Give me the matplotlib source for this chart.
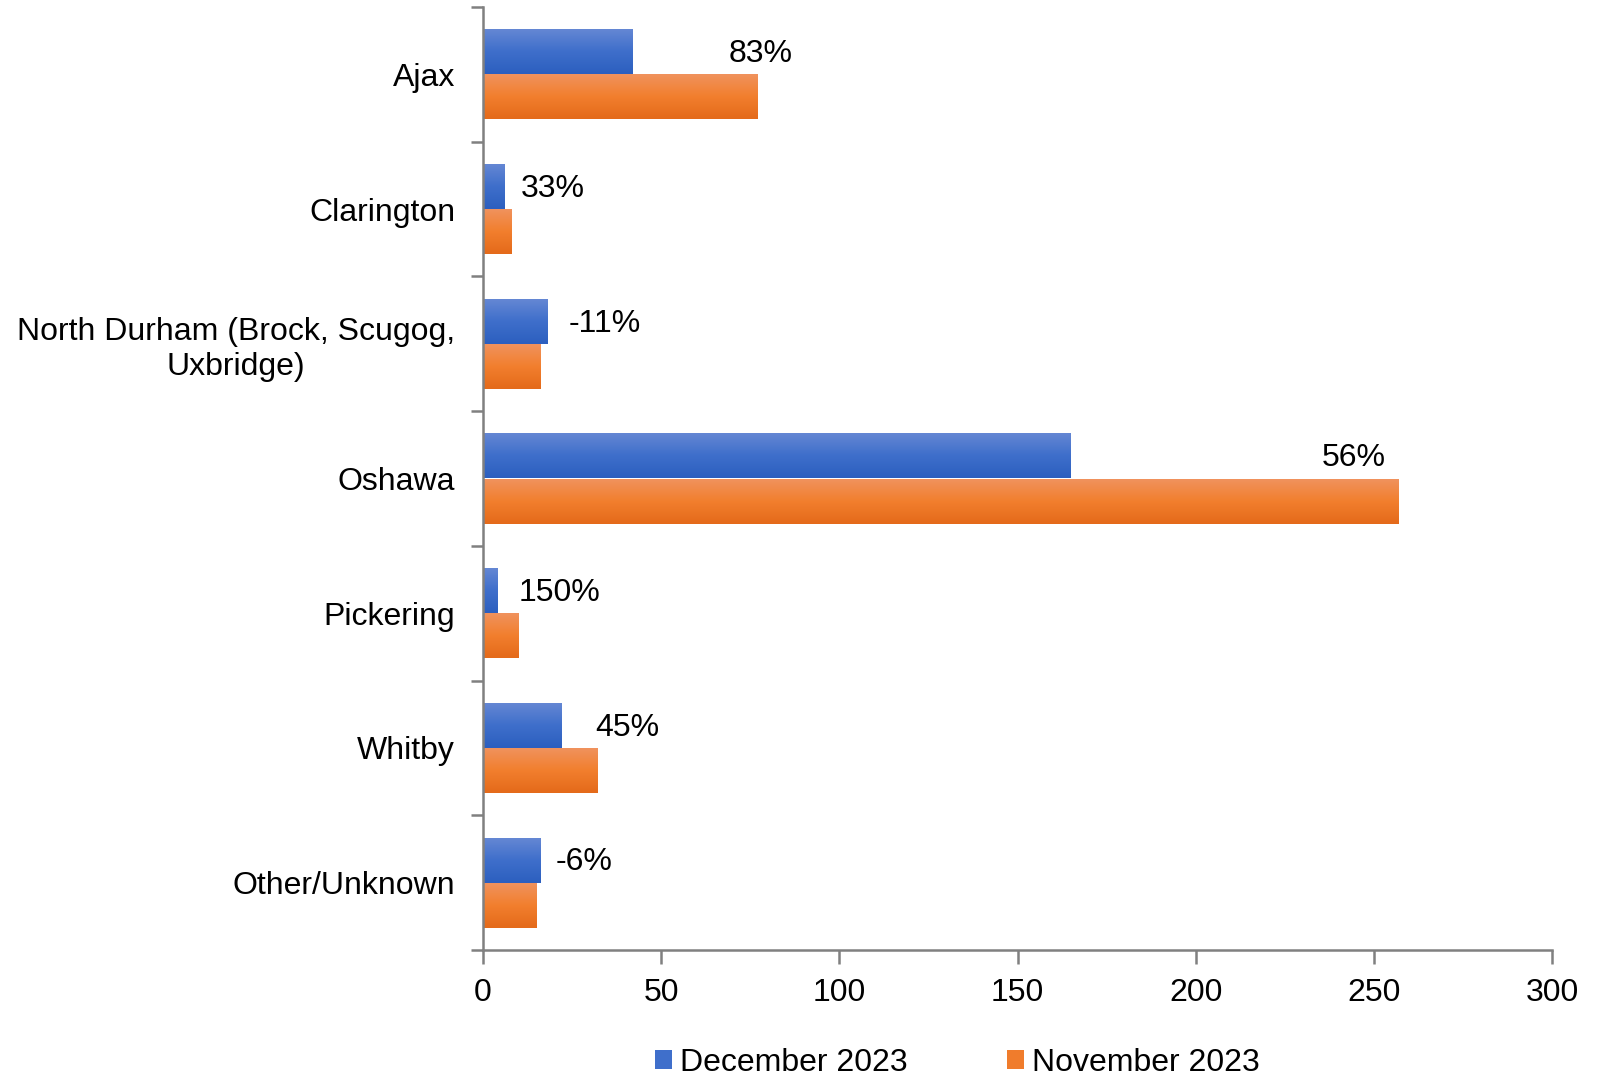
import numpy as np
import matplotlib
matplotlib.use("Agg")
import matplotlib.pyplot as plt
from matplotlib.colors import LinearSegmentedColormap
from matplotlib.patches import Patch

plt.rcParams['font.family'] = ['Liberation Sans', 'DejaVu Sans']

# data
areas = ['Ajax', 'Clarington', 'North Durham (Brock, Scugog,\nUxbridge)',
         'Oshawa', 'Pickering', 'Whitby', 'Other/Unknown']
dec_2023 = [42, 6, 18, 165, 4, 22, 16]
nov_2023 = [77, 8, 16, 257, 10, 32, 15]
pct_labels = ['83%', '33%', '-11%', '56%', '150%', '45%', '-6%']
label_x = [69, 10.5, 24, 235.5, 10, 31.5, 20.5]

FS = 23

# light on top, dark at bottom
blue_cmap = LinearSegmentedColormap.from_list('b', ['#6688d4', '#3f6fcb', '#2c5fbf'])
orange_cmap = LinearSegmentedColormap.from_list('o', ['#f0935f', '#f27f2e', '#e46a1a'])

fig = plt.figure(figsize=(16.09, 10.76), dpi=100)
ax = fig.add_axes([483/1609, 1 - 950/1076, (1552-483)/1609, (950-7)/1076])

y = np.arange(len(areas))
h = 0.335
bars_dec = ax.barh(y - h/2, dec_2023, height=h, color='none', lw=0)
bars_nov = ax.barh(y + h/2, nov_2023, height=h, color='none', lw=0)

grad = np.linspace(0, 1, 100).reshape(-1, 1)
for bars, cmap in [(bars_dec, blue_cmap), (bars_nov, orange_cmap)]:
    for b in bars:
        x0, y0 = b.get_x(), b.get_y()
        w, hh = b.get_width(), b.get_height()
        im = ax.imshow(grad, cmap=cmap, aspect='auto', origin='upper',
                       extent=[x0, x0 + w, y0 + hh, y0], zorder=2,
                       interpolation='bilinear')
        im.set_clip_path(b)

for i, txt in enumerate(pct_labels):
    ax.text(label_x[i], y[i] - 0.15, txt, fontsize=FS, ha='left', va='center')

ax.set_xlim(0, 300)
ax.set_ylim(len(areas) - 0.5, -0.5)
ax.set_xticks(np.arange(0, 301, 50))
ax.tick_params(axis='x', labelsize=FS, length=10, width=1.8, color='#808080', pad=10)

ax.set_yticks(y)
ax.set_yticklabels(areas, fontsize=FS, multialignment='center')
ax.tick_params(axis='y', length=0, pad=20)
ax.set_yticks(np.arange(-0.5, len(areas)), minor=True)
ax.tick_params(axis='y', which='minor', length=9, width=1.8, color='#808080')

for s in ['top', 'right']:
    ax.spines[s].set_visible(False)
for s in ['left', 'bottom']:
    ax.spines[s].set_color('#808080')
    ax.spines[s].set_linewidth(1.8)

handles = [Patch(facecolor='#3f6fcb', label='December 2023'),
           Patch(facecolor='#f07c2c', label='November 2023')]
fig.legend(handles=handles, loc='center', bbox_to_anchor=(0.595, 0.012), ncol=2,
           frameon=False, fontsize=FS, handlelength=0.55, handleheight=0.55,
           handletextpad=0.25, columnspacing=3.1)

fig.savefig('out.png', dpi=100)
